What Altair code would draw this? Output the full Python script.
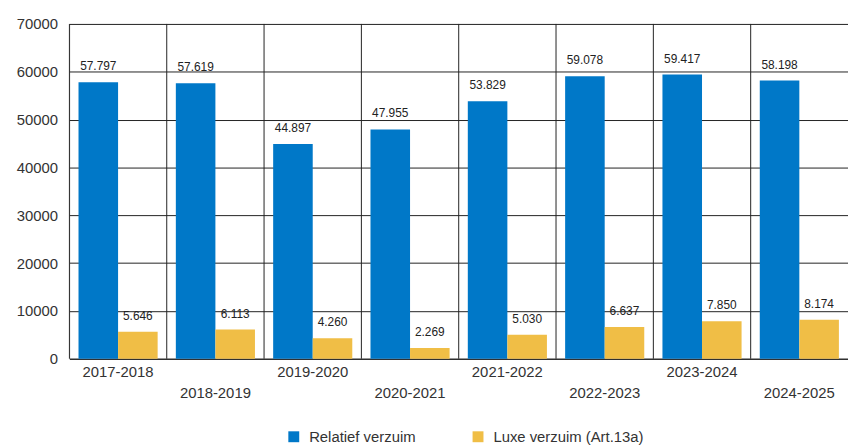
import altair as alt
import pandas as pd

years = ["2017-2018", "2018-2019", "2019-2020", "2020-2021",
         "2021-2022", "2022-2023", "2023-2024", "2024-2025"]
relatief = [57797, 57619, 44897, 47955, 53829, 59078, 59417, 58198]
luxe = [5646, 6113, 4260, 2269, 5030, 6637, 7850, 8174]
series = ["Relatief verzuim", "Luxe verzuim (Art.13a)"]
colors = ["#0078C8", "#F0BE46"]
y_ticks = [0, 10000, 20000, 30000, 40000, 50000, 60000, 70000]

rows = []
for i, yr in enumerate(years):
    rows.append({"jaar": yr, "reeks": series[0], "waarde": relatief[i]})
    rows.append({"jaar": yr, "reeks": series[1], "waarde": luxe[i]})
df = pd.DataFrame(rows)
df["label"] = df["waarde"].map(lambda v: f"{v:,}".replace(",", "."))

W, H = 786, 338
FONT = "Liberation Sans, Arial, Helvetica, sans-serif"

odd = years[1::2]
label_expr = ("indexof([" + ",".join(f"'{y}'" for y in odd) +
              "], datum.label) >= 0 ? ['', datum.label] : datum.label")

x_axis = alt.Axis(title=None, labelAngle=0, ticks=False, domain=True,
                  domainColor="#222222", labelFontSize=15, labelColor="#333333",
                  labelPadding=6, labelLineHeight=21, labelExpr=label_expr,
                  grid=False, labelFont=FONT)
x_scale = alt.Scale(paddingInner=0, paddingOuter=0)


def xenc(**kw):
    return alt.X("jaar:N", sort=years, scale=x_scale, axis=x_axis, **kw)


xoff = alt.XOffset("reeks:N", sort=series,
                   scale=alt.Scale(paddingInner=0, paddingOuter=0.23))
y_enc = alt.Y("waarde:Q", scale=alt.Scale(domain=[0, 70000], nice=False),
              axis=alt.Axis(title=None, values=y_ticks, format="d", ticks=False,
                            domain=False, grid=True, gridColor="#222222",
                            gridOpacity=1, labelFontSize=15, labelColor="#333333",
                            labelPadding=12, minExtent=57, maxExtent=57,
                            labelFont=FONT))

rules = alt.Chart(pd.DataFrame({"jaar": years})).mark_rule(
    color="#222222", strokeWidth=1
).encode(x=xenc(bandPosition=0), y=alt.value(0), y2=alt.value(H))

bars = alt.Chart(df).mark_bar().encode(
    x=xenc(), xOffset=xoff, y=y_enc,
    color=alt.Color("reeks:N", sort=series,
                    scale=alt.Scale(domain=series, range=colors),
                    legend=alt.Legend(title=None, orient="none", legendX=219,
                                      legendY=409, direction="horizontal",
                                      symbolType="square", symbolSize=121,
                                      symbolStrokeWidth=0, labelFontSize=15,
                                      labelColor="#333333", labelFont=FONT,
                                      columnPadding=55, labelOffset=8,
                                      padding=0))
)

texts = alt.Chart(df).mark_text(
    dy=-16, baseline="middle", fontSize=12, color="#222222", font=FONT
).encode(x=xenc(), xOffset=xoff, y=y_enc, text="label:N")

chart = alt.layer(rules, bars, texts).properties(
    width=W, height=H,
    padding={"left": 5, "top": 7, "right": 0, "bottom": 0}
).configure_view(stroke=None).configure(font=FONT)

chart.save("out.html", embed_options={"renderer": "svg", "actions": False})
